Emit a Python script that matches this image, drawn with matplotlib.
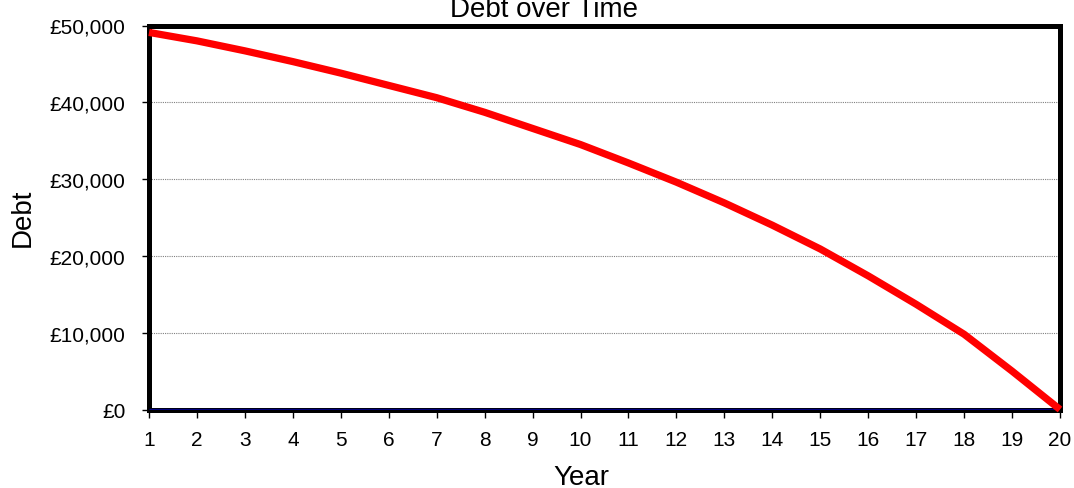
import matplotlib
matplotlib.use("Agg")
import matplotlib.pyplot as plt
from matplotlib.ticker import FuncFormatter

plt.rcParams["font.family"] = ["Liberation Sans", "DejaVu Sans"]

# data
years = list(range(1, 21))
debt = [49100, 48000, 46700, 45300, 43800, 42200, 40600, 38700, 36600, 34500,
        32100, 29600, 26900, 24000, 20900, 17400, 13700, 9800, 5000, 0]
zero_line = [0] * len(years)

W, H = 1074, 489
fig = plt.figure(figsize=(W / 100, H / 100), dpi=100)
# plot area in pixels: x 149..1060, y 27..410
ax = fig.add_axes([149 / W, 1 - 410.5 / H, (1060 - 149) / W, (410.5 - 26.5) / H])

ax.plot(years, zero_line, color="#000080", linewidth=2.4, solid_capstyle="butt", zorder=5)
ax.plot(years, debt, color="#FF0000", linewidth=5.2, solid_capstyle="butt", zorder=6,
        clip_on=False)

ax.set_xlim(1, 20)
ax.set_ylim(0, 50000)
ax.set_xticks(years)
ax.set_yticks(range(0, 50001, 10000))
ax.yaxis.set_major_formatter(FuncFormatter(lambda v, p: f"\u00a3{int(v):,}"))
ax.tick_params(axis="y", direction="out", length=5, width=1, labelsize=15, pad=12)
ax.tick_params(axis="x", direction="out", length=6, width=1, labelsize=15, pad=9)
ax.grid(axis="y", color="#808080", linestyle=(0, (1, 1)), linewidth=0.8)
ax.set_axisbelow(True)
for s in ax.spines.values():
    s.set_linewidth(3.6)
    s.set_color("black")

# axis titles and chart title placed where the reference has them
fig.text(581 / W, 1 - 485 / H, "Year", ha="center", va="baseline", fontsize=20)
fig.text(23 / W, 1 - 218 / H, "Debt", ha="center", va="center", rotation=90, fontsize=20)
fig.text(544 / W, 1 - 17 / H, "Debt over Time", ha="center", va="baseline", fontsize=20)

fig.savefig("out.png", dpi=100, facecolor="white")
